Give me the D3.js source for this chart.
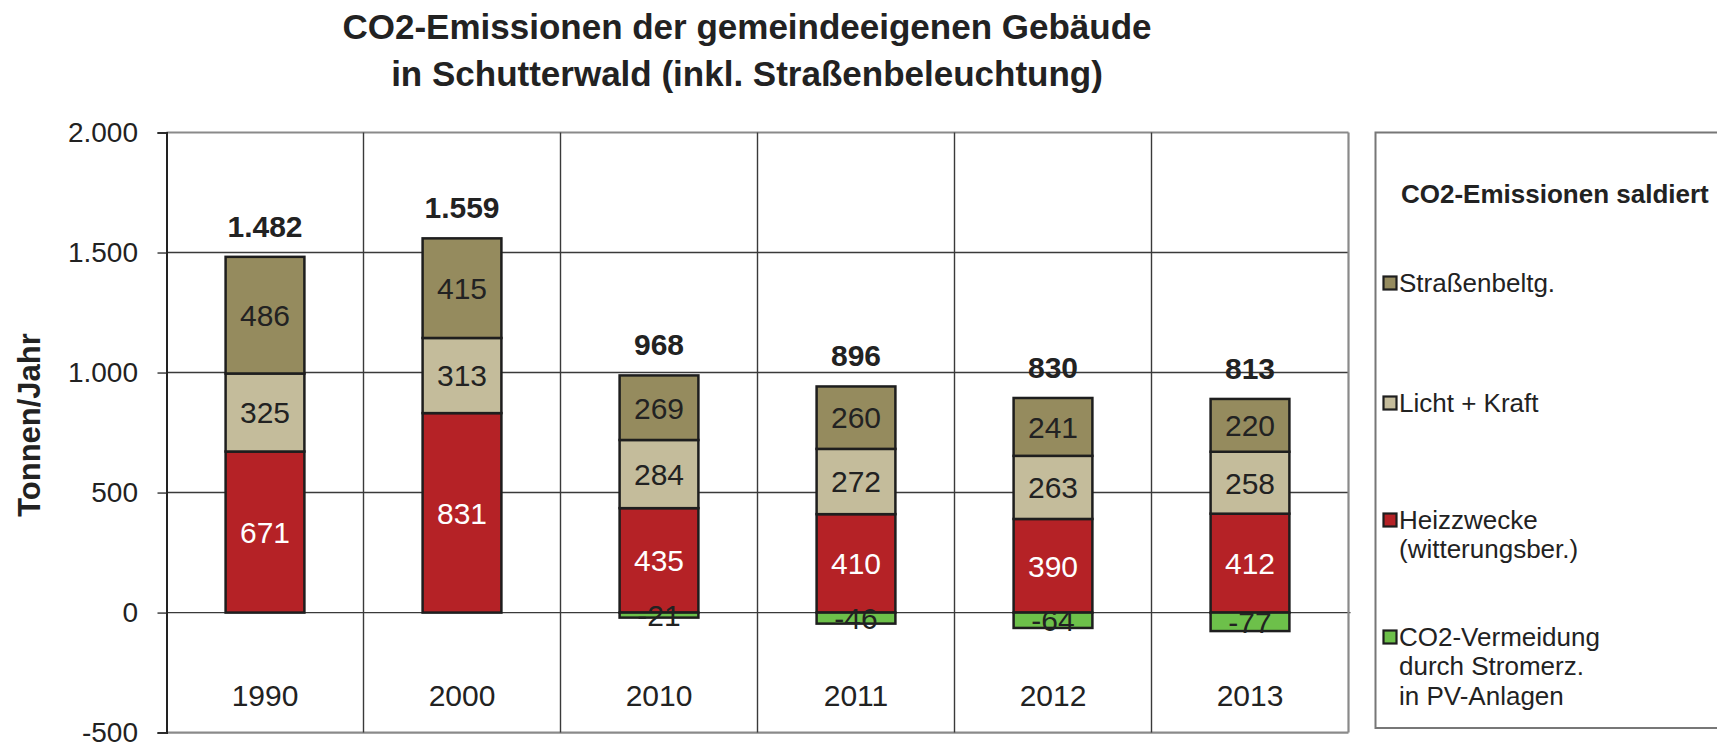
<!DOCTYPE html>
<html>
<head>
<meta charset="utf-8">
<script src="https://cdn.jsdelivr.net/npm/d3@7"></script>
<style>
  html, body { margin: 0; padding: 0; background: #fff; }
  svg { display: block; font-family: "Liberation Sans", Arial, sans-serif; }
</style>
</head>
<body>
<svg id="chart" width="1717" height="745"></svg>
<script>
// ---- data ----
const years = ["1990", "2000", "2010", "2011", "2012", "2013"];
const heizzwecke = [671, 831, 435, 410, 390, 412];
const lichtKraft = [325, 313, 284, 272, 263, 258];
const strassen = [486, 415, 269, 260, 241, 220];
const pvVermeidung = [0, 0, -21, -46, -64, -77];
const totals = [1482, 1559, 968, 896, 830, 813];
const yTicks = [-500, 0, 500, 1000, 1500, 2000];
const seriesKeys = ["heiz", "licht", "strasse", "pv"];
const seriesNames = {
  strasse: ["Straßenbeltg."],
  licht: ["Licht + Kraft"],
  heiz: ["Heizzwecke", "(witterungsber.)"],
  pv: ["CO2-Vermeidung", "durch Stromerz.", "in PV-Anlagen"]
};
const legendOrder = ["strasse", "licht", "heiz", "pv"];
const titleLines = ["CO2-Emissionen der gemeindeeigenen Gebäude", "in Schutterwald (inkl. Straßenbeleuchtung)"];
const yTitle = "Tonnen/Jahr";
const legendTitle = "CO2-Emissionen saldiert";

(function () {
// ---- styles ----
const colors = { strasse: "#958B5E", licht: "#C4BC9B", heiz: "#B52226", pv: "#6DC04A" };
const labelColors = { strasse: "#222", licht: "#222", heiz: "#fff", pv: "#222" };

const rows = years.map((y, i) => ({
  year: y, heiz: heizzwecke[i], licht: lichtKraft[i], strasse: strassen[i], pv: pvVermeidung[i], total: totals[i]
}));

const de = d3.formatLocale({ decimal: ",", thousands: ".", grouping: [3], currency: ["", " €"], minus: "-" });
const fmt = de.format(",d");

const svg = d3.select("#chart");
const pLeft = 166.5, pRight = 1348.5, pTop = 132.5, pBottom = 732.6;

const x = d3.scaleBand().domain(years).range([pLeft, pRight]).paddingInner(0).paddingOuter(0);
const y = d3.scaleLinear().domain([-500, 2000]).range([pBottom, pTop]);
const barW = x.bandwidth() * 0.4;

// gridlines
const g = svg.append("g");
g.selectAll("line.h").data(yTicks).join("line")
  .attr("x1", pLeft).attr("x2", d => d === 0 ? pRight + 2 : pRight)
  .attr("y1", d => y(d)).attr("y2", d => y(d))
  .attr("stroke", d => (d === 2000 || d === -500) ? "#8a8a8a" : "#3a3a3a")
  .attr("stroke-width", d => (d === 2000 || d === -500) ? 2.2 : 1.4);
g.selectAll("line.v").data(years.slice(1)).join("line")
  .attr("x1", d => x(d)).attr("x2", d => x(d))
  .attr("y1", pTop).attr("y2", pBottom)
  .attr("stroke", "#3a3a3a").attr("stroke-width", 1.4);
g.append("line").attr("x1", pRight).attr("x2", pRight).attr("y1", pTop).attr("y2", pBottom)
  .attr("stroke", "#8a8a8a").attr("stroke-width", 2.2);

// y axis
const yAxis = d3.axisLeft(y).tickValues(yTicks).tickFormat(fmt).tickSize(9).tickPadding(19.5);
const ya = svg.append("g").attr("transform", `translate(${pLeft},0)`).call(yAxis);
ya.select(".domain").attr("stroke", "#222").attr("stroke-width", 2);
ya.selectAll(".tick line").attr("stroke", "#333").attr("stroke-width", 1.4);
ya.selectAll(".tick text").attr("font-size", 28).attr("fill", "#222").attr("font-family", "Liberation Sans, Arial, sans-serif");

// y title
svg.append("text")
  .attr("transform", `translate(40,425) rotate(-90)`)
  .attr("text-anchor", "middle")
  .attr("font-size", 31).attr("font-weight", "bold").attr("fill", "#222")
  .text(yTitle);

// stacked bars
const stack = d3.stack().keys(seriesKeys).offset(d3.stackOffsetDiverging);
const stacked = stack(rows);

const bars = svg.append("g");
stacked.forEach(s => {
  const key = s.key;
  bars.selectAll(null).data(s.filter(d => d[1] !== d[0])).join("rect")
    .attr("x", d => x(d.data.year) + x.bandwidth() / 2 - barW / 2)
    .attr("width", barW)
    .attr("y", d => y(Math.max(d[0], d[1])))
    .attr("height", d => Math.abs(y(d[0]) - y(d[1])))
    .attr("fill", colors[key])
    .attr("stroke", "#1e1e1e").attr("stroke-width", 2.5);
});
stacked.forEach(s => {
  const key = s.key;
  bars.selectAll(null).data(s.filter(d => d[1] !== d[0])).join("text")
    .attr("x", d => x(d.data.year) + x.bandwidth() / 2)
    .attr("y", d => y((d[0] + d[1]) / 2))
    .attr("dy", "0.36em")
    .attr("text-anchor", "middle")
    .attr("font-size", 30).attr("fill", labelColors[key])
    .text(d => fmt(d.data[key]));
});

// totals
svg.append("g").selectAll("text").data(stacked[2]).join("text")
  .attr("x", d => x(d.data.year) + x.bandwidth() / 2)
  .attr("y", d => y(d[1]) - 20)
  .attr("text-anchor", "middle")
  .attr("font-size", 30).attr("font-weight", "bold").attr("fill", "#222")
  .text(d => fmt(d.data.total));

// category labels
svg.append("g").selectAll("text").data(years).join("text")
  .attr("x", d => x(d) + x.bandwidth() / 2)
  .attr("y", 706)
  .attr("text-anchor", "middle")
  .attr("font-size", 30).attr("fill", "#222")
  .text(d => d);

// title
svg.append("g").selectAll("text").data(titleLines).join("text")
  .attr("x", 747).attr("y", (d, i) => 39 + i * 47)
  .attr("text-anchor", "middle")
  .attr("font-size", 35).attr("font-weight", "bold").attr("fill", "#222")
  .text(d => d);

// legend
const lg = svg.append("g");
lg.append("rect").attr("x", 1375.5).attr("y", 132.5).attr("width", 360).attr("height", 595.5)
  .attr("fill", "#fff").attr("stroke", "#777").attr("stroke-width", 2);
lg.append("text").attr("x", 1401).attr("y", 203)
  .attr("font-size", 26).attr("font-weight", "bold").attr("fill", "#222").text(legendTitle);
const legendY = { strasse: 283, licht: 403, heiz: 520, pv: 637 };
legendOrder.forEach(k => {
  const cy = legendY[k];
  lg.append("rect").attr("x", 1383.5).attr("y", cy - 6.5).attr("width", 13).attr("height", 13)
    .attr("fill", colors[k]).attr("stroke", "#1e1e1e").attr("stroke-width", 2.2);
  lg.append("text").attr("x", 1399).attr("y", cy)
    .attr("font-size", 26).attr("fill", "#222")
    .selectAll("tspan").data(seriesNames[k]).join("tspan")
    .attr("x", 1399).attr("dy", (d, i) => i === 0 ? "0.36em" : "1.12em")
    .text(d => d);
});
})();
</script>
</body>
</html>
